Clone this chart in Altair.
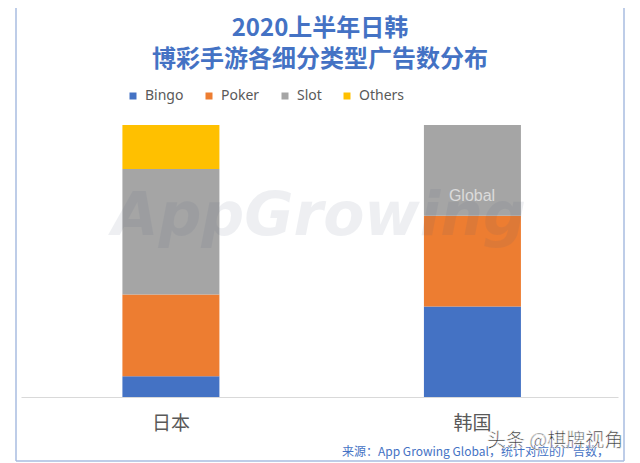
import altair as alt
import pandas as pd

countries = ["日本", "韩国"]
series = ["Bingo", "Poker", "Slot", "Others"]
japan_vals = [7.6, 30.1, 46.1, 16.2]
korea_vals = [33.3, 33.3, 33.4, 0.0]
colors = ["#4472C4", "#ED7D31", "#A5A5A5", "#FFC000"]

title1 = "2020上半年日韩"
title2 = "博彩手游各细分类型广告数分布"
source = "来源：App Growing Global，统计对应的广告数，"
wm_toutiao = "头条 @棋牌视角"
wm_app = "AppGrowing"
wm_global = "Global"

rows = []
for c, vals in zip(countries, [japan_vals, korea_vals]):
    for i, (s, v) in enumerate(zip(series, vals)):
        rows.append({"country": c, "type": s, "value": v, "idx": i})
df = pd.DataFrame(rows)

W, H = 597, 272
CJK = "Noto Sans CJK SC"

bars = alt.Chart(df).mark_bar(size=97).encode(
    x=alt.X("country:N", sort=countries, title=None,
            scale=alt.Scale(paddingInner=0.5, paddingOuter=0.24, align=0.515),
            axis=alt.Axis(labelAngle=0, ticks=False, grid=False,
                          domainColor="#D9D9D9", domainWidth=1,
                          labelFont=CJK, labelFontSize=19, labelColor="#595959",
                          labelPadding=17)),
    y=alt.Y("value:Q", stack="normalize", axis=None),
    color=alt.Color("type:N", sort=series,
                    scale=alt.Scale(domain=series, range=colors),
                    legend=alt.Legend(orient="none", legendX=105, legendY=-36,
                                      direction="horizontal", title=None,
                                      symbolType="square", symbolSize=49,
                                      symbolStrokeWidth=0,
                                      labelFont="Noto Sans", labelFontSize=14,
                                      labelColor="#595959", labelOffset=5,
                                      columnPadding=18)),
    order=alt.Order("idx:Q", sort="ascending"),
)

def txt(t, x, y, **kw):
    return alt.Chart(pd.DataFrame({"t": [t]})).mark_text(**kw).encode(
        text="t:N", x=alt.value(x), y=alt.value(y))

t1 = txt(title1, 299, -96, font=CJK, fontSize=24, fontWeight="bold", color="#4472C4")
t2 = txt(title2, 299, -65, font=CJK, fontSize=24, fontWeight="bold", color="#4472C4")
src = txt(source, 321, 327, font=CJK, fontSize=12, color="#4472C4", align="left")
wm1 = txt(wm_app, 298, 92, font="DejaVu Sans", fontSize=60, fontStyle="italic",
          fontWeight="bold", color="#4A5A7A", opacity=0.09)
wm2 = txt(wm_global, 451, 71, font="Liberation Sans", fontSize=16, color="#FFFFFF", opacity=0.6)
wm3 = txt(wm_toutiao, 466, 316, font=CJK, fontSize=19, color="#333333",
          align="left", stroke="#FFFFFF", strokeWidth=0.6)

frame_l = alt.Chart(pd.DataFrame({"a": [0]})).mark_rule(color="#A9BCE0", strokeWidth=1.5).encode(
    x=alt.value(-5), y=alt.value(-125), y2=alt.value(336))
frame_r = alt.Chart(pd.DataFrame({"a": [0]})).mark_rule(color="#A9BCE0", strokeWidth=1.5).encode(
    x=alt.value(603), y=alt.value(-125), y2=alt.value(336))
frame_b = alt.Chart(pd.DataFrame({"a": [0]})).mark_rule(color="#A9BCE0", strokeWidth=1.5).encode(
    x=alt.value(-5), x2=alt.value(603), y=alt.value(336))

chart = alt.layer(bars, wm1, wm2, t1, t2, src, wm3, frame_l, frame_r, frame_b).properties(
    width=W, height=H,
    padding={"left": 13, "top": 117, "right": 12, "bottom": 66},
    autosize=alt.AutoSizeParams(type="none"),
    background="#FFFFFF",
).configure_view(stroke=None)

chart.save("out.html", embed_options={"renderer": "svg", "actions": False})
